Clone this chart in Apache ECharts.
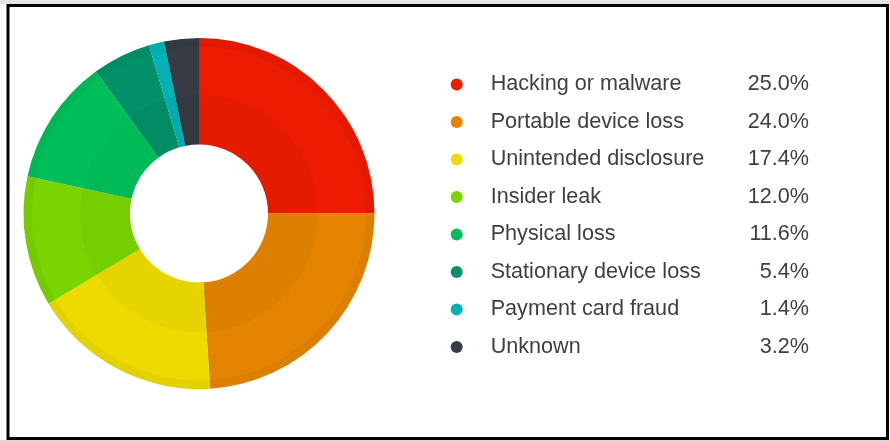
<!DOCTYPE html>
<html>
<head>
<meta charset="utf-8">
<script src="https://cdn.jsdelivr.net/npm/echarts@6/dist/echarts.min.js"></script>
<style>
  html, body { margin: 0; padding: 0; background: #fff; }
  #chart { width: 890px; height: 442px; }
</style>
</head>
<body>
<div id="chart"></div>
<script>
// Breach types and their share of incidents (%)
const categories = [
  'Hacking or malware',
  'Portable device loss',
  'Unintended disclosure',
  'Insider leak',
  'Physical loss',
  'Stationary device loss',
  'Payment card fraud',
  'Unknown'
];
const shares = [25.0, 24.0, 17.4, 12.0, 11.6, 5.4, 1.4, 3.2];
const palette = ['#ED1C00', '#E58400', '#EDDB00', '#7AD400', '#00BF5A', '#039169', '#00B2B8', '#363B44'];

const chart = echarts.init(document.getElementById('chart'), null, { renderer: 'canvas' });

const pieData = categories.map((name, i) => ({ name, value: shares[i], itemStyle: { color: palette[i] } }));
const shadeData = categories.map((name, i) => ({ name, value: shares[i] }));
const shareByName = {};
categories.forEach((c, i) => { shareByName[c] = shares[i]; });

const center = [199, 213.5];
const textFont = '"Liberation Sans", Arial, sans-serif';
const textColor = '#3b3f47';
const textStyle = { fontFamily: textFont, fontSize: 21.6, color: textColor, lineHeight: 22 };

const legendRows = {
  orient: 'vertical',
  top: 73.5,
  padding: 0,
  itemGap: 15.5,
  itemHeight: 12,
  selectedMode: false,
  data: categories
};

const option = {
  animation: false,
  backgroundColor: '#ffffff',
  legend: [
    // dot + category name
    Object.assign({}, legendRows, {
      left: 450.7,
      icon: 'circle',
      itemWidth: 58,
      symbolKeepAspect: true,
      textStyle: textStyle
    }),
    // right-aligned percentage column
    Object.assign({}, legendRows, {
      left: 723,
      icon: 'circle',
      itemWidth: 1,
      itemStyle: { opacity: 0 },
      formatter: name => '{v|' + shareByName[name].toFixed(1) + '%}',
      textStyle: Object.assign({}, textStyle, {
        rich: { v: Object.assign({}, textStyle, { width: 80, align: 'right' }) }
      })
    })
  ],
  series: [
    {
      type: 'pie',
      center: center,
      radius: [69, 175.5],
      startAngle: 90,
      clockwise: true,
      label: { show: false },
      labelLine: { show: false },
      emphasis: { disabled: true },
      data: pieData
    },
    {
      // slightly darker inner band of the ring
      type: 'pie',
      center: center,
      radius: [69, 119],
      startAngle: 90,
      silent: true,
      label: { show: false },
      labelLine: { show: false },
      emphasis: { disabled: true },
      itemStyle: { color: 'rgba(0,0,0,0.03)' },
      data: shadeData
    },
    {
      // thin darker rim at the outer edge
      type: 'pie',
      center: center,
      radius: [167, 175.5],
      startAngle: 90,
      silent: true,
      label: { show: false },
      labelLine: { show: false },
      emphasis: { disabled: true },
      itemStyle: { color: 'rgba(0,0,0,0.04)' },
      data: shadeData
    }
  ],
  graphic: [
    { type: 'rect', shape: { x: 0, y: 0, width: 890, height: 4 }, style: { fill: '#e4e4e4' }, silent: true },
    { type: 'rect', shape: { x: 0, y: 440, width: 890, height: 2 }, style: { fill: '#d8d8d8' }, silent: true },
    { type: 'rect', shape: { x: 8, y: 5.5, width: 879.5, height: 433 }, style: { fill: 'none', stroke: '#000', lineWidth: 3 }, silent: true }
  ]
};

chart.setOption(option);
</script>
</body>
</html>
